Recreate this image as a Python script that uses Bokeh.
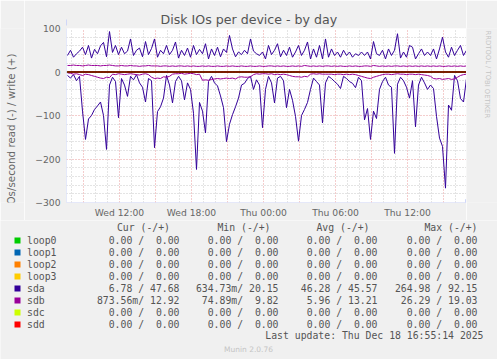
import pandas as pd
from bokeh.plotting import figure
from bokeh.layouts import column, row
from bokeh.core.properties import value
from bokeh.models import (Range1d, FixedTicker, DatetimeTickFormatter,
                          Arrow, NormalHead, Span, ColumnDataSource)
from bokeh.embed import file_html
from bokeh.resources import INLINE

# ---------------- data ----------------
devices = ["loop0", "loop1", "loop2", "loop3", "sda", "sdb", "sdc", "sdd"]
colors = ["#00cc00", "#0066b3", "#ff8000", "#ffcc00", "#330099", "#990099", "#ccff00", "#ff0000"]

sda_read = [-8, -14, -6, -20, -10, -90, -155, -108, -100, -86,
            -78, -69, -100, -178, -30, -12, -22, -105, -15, -30,
            -56, -10, -18, -6, -25, -35, -69, -15, -20, -174,
            -91, -80, -60, -8, -30, -71, -22, -10, -20, -64,
            -25, -40, -95, -224, -70, -90, -140, -22, -10, -25,
            -32, -55, -82, -160, -120, -98, -80, -60, -30, -26,
            -15, -10, -40, -18, -30, -128, -40, -10, -25, -71,
            -14, -10, -20, -82, -40, -65, -102, -159, -100, -86,
            -70, -40, -14, -22, -30, -117, -25, -10, -15, -22,
            -28, -38, -10, -15, -22, -26, -36, -12, -20, -110,
            -84, -155, -90, -107, -40, -22, -12, -30, -35, -187,
            -28, -12, -20, -35, -60, -20, -126, -30, -12, -25,
            -40, -30, -38, -102, -152, -171, -267, -76, -88, -8,
            -20, -61, -69, -15]
sda_write = [38, 50, 34, 42, 48, 57, 40, 61, 32, 52,
             42, 60, 68, 35, 93, 45, 61, 40, 57, 42,
             48, 76, 38, 50, 55, 35, 70, 40, 54, 76,
             34, 50, 42, 61, 40, 50, 69, 32, 50, 38,
             55, 34, 61, 40, 52, 42, 65, 30, 53, 38,
             57, 35, 53, 45, 84, 53, 35, 46, 40, 50,
             42, 76, 48, 42, 38, 46, 30, 61, 40, 50,
             65, 35, 50, 38, 57, 34, 46, 61, 38, 50,
             69, 30, 53, 34, 61, 30, 76, 34, 53, 38,
             46, 34, 50, 38, 46, 34, 42, 38, 46, 38,
             46, 30, 70, 42, 38, 50, 30, 53, 38, 50,
             88, 32, 46, 34, 61, 57, 30, 42, 53, 38,
             46, 38, 53, 30, 53, 80, 46, 34, 57, 38,
             50, 61, 38, 50]
sdb_read = [-2, -3, -5, -4, -6, -8, -5, -6, -8, -10,
            -12, -14, -15, -12, -13, -5, -6, -4,
            -5, -6, -5, -4, -5, -6, -7, -5, -4, -6, -12, -15, -14, -15,
            -11, -12, -10, -5, -4, -4, -3, -5, -4, -3, -4, -6, -5,
            -19, -18, -19, -17, -16, -15, -16, -15, -14,
            -15, -14, -16, -12, -11, -12, -12, -11, -6, -4, -5, -4,
            -4, -5, -4, -6, -5, -6, -5, -6, -8, -10, -11, -11,
            -12, -10, -11, -5, -4, -5, -4, -5, -5, -5,
            -5, -6, -5, -5, -6, -5, -6, -5, -6, -8,
            -10, -12, -14, -15, -12, -10, -8, -6,
            -5, -5, -6, -5, -4, -5, -5, -6, -5, -5, -6, -5, -6, -7, -8, -10,
            -15, -16, -15, -17, -16, -15, -17, -16, -12, -8, -6, -5]
sdb_write = [15, 15, 16, 15, 15, 14, 15, 16, 15, 15,
             15, 14, 15, 15, 16, 15, 14, 14, 15, 14,
             14, 15, 14, 14, 13, 14, 14, 15, 14, 14,
             14, 13, 14, 14, 13, 14, 13, 14, 14, 13,
             14, 13, 14, 13, 13, 14, 13, 14, 13, 13,
             14, 13, 13, 14, 13, 14, 13, 13, 14, 13,
             13, 14, 13, 13, 14, 13, 13, 14, 14, 13,
             14, 13, 14, 13, 13, 14, 13, 14, 13, 15,
             14, 13, 14, 13, 14, 13, 14, 14, 13, 14,
             13, 14, 13, 13, 14, 13, 14, 13, 13, 14,
             14, 13, 15, 14, 13, 14, 13, 14, 13, 14,
             14, 13, 14, 13, 14, 13, 14, 13, 14, 13,
             14, 13, 14, 13, 14, 13, 13, 14, 13, 14,
             13, 14, 13, 14]
zeros = [0] * len(sda_read)

series_read = {"loop0": zeros, "loop1": zeros, "loop2": zeros, "loop3": zeros,
               "sda": sda_read, "sdb": sdb_read, "sdc": zeros, "sdd": zeros}
series_write = {"loop0": zeros, "loop1": zeros, "loop2": zeros, "loop3": zeros,
                "sda": sda_write, "sdb": sdb_write, "sdc": zeros, "sdd": zeros}

# legend statistics (read / write), as shown
cur_r = ["0.00", "0.00", "0.00", "0.00", "6.78", "873.56m", "0.00", "0.00"]
cur_w = ["0.00", "0.00", "0.00", "0.00", "47.68", "12.92", "0.00", "0.00"]
min_r = ["0.00", "0.00", "0.00", "0.00", "634.73m", "74.89m", "0.00", "0.00"]
min_w = ["0.00", "0.00", "0.00", "0.00", "20.15", "9.82", "0.00", "0.00"]
avg_r = ["0.00", "0.00", "0.00", "0.00", "46.28", "5.96", "0.00", "0.00"]
avg_w = ["0.00", "0.00", "0.00", "0.00", "45.57", "13.21", "0.00", "0.00"]
max_r = ["0.00", "0.00", "0.00", "0.00", "264.98", "26.29", "0.00", "0.00"]
max_w = ["0.00", "0.00", "0.00", "0.00", "92.15", "19.03", "0.00", "0.00"]
col_headers = ["Cur (-/+)", "Min (-/+)", "Avg (-/+)", "Max (-/+)"]

y_ticks = [-300, -200, -100, 0, 100]
title_text = "Disk IOs per device - by day"
y_label = "IOs/second read (-) / write (+)"
last_update = "Last update: Thu Dec 18 16:55:14 2025"
watermark = "RRDTOOL / TOBI OETIKER"
version = "Munin 2.0.76"

# time axis: 15-minute samples
t_start = pd.Timestamp("2025-12-17 07:35")
t_end = pd.Timestamp("2025-12-18 16:55")
times = pd.date_range("2025-12-17 07:40", periods=len(sda_read), freq="15min")

def ms(ts):
    return pd.Timestamp(ts).value / 1e6

label_ticks = [ms(t) for t in pd.date_range("2025-12-17 12:00", "2025-12-18 12:00", freq="6h")]
grid_major = [ms(t) for t in pd.date_range("2025-12-17 09:00", "2025-12-18 15:00", freq="3h")]
grid_minor = [ms(t) for t in pd.date_range("2025-12-17 08:00", "2025-12-18 16:00", freq="1h")
              if ms(t) not in grid_major]

# ---------------- styling constants ----------------
FONT = "DejaVu Sans"
MONO = "DejaVu Sans Mono"
TXT = "#666666"
LEG = "#555555"
BG = "#f0f0f0"
NB = "\u00a0"

W_LEFT = 24
W_MAIN = 442
W_SIDE = 31
H1 = 220
H2 = 139

def strip(width, height, x0, y0):
    """A plain panel whose data units are picture pixels."""
    f = figure(width=width, height=height, x_range=Range1d(x0, x0 + width),
               y_range=Range1d(y0 + height, y0), output_backend="svg", toolbar_location=None,
               min_border_left=0, min_border_right=0, min_border_top=0, min_border_bottom=0,
               background_fill_color=BG, border_fill_color=BG, outline_line_color=None)
    f.axis.visible = False
    f.grid.visible = False
    return f

# ---------------- main chart ----------------
p = figure(width=W_MAIN, height=H1, x_axis_type="datetime",
           x_range=Range1d(t_start, t_end), y_range=Range1d(-300, 100),
           output_backend="svg", toolbar_location=None,
           min_border_left=42, min_border_right=0, min_border_top=28, min_border_bottom=17,
           background_fill_color="white", border_fill_color=BG,
           outline_line_color=None)

p.title.text = title_text
p.title.align = "left"
p.title.offset = 94
p.title.standoff = 3
p.title.text_font = FONT
p.title.text_font_size = "12.6px"
p.title.text_font_style = "normal"
p.title.text_color = LEG

p.xaxis.ticker = FixedTicker(ticks=label_ticks)
p.xaxis.formatter = DatetimeTickFormatter(hours="%a %H:%M", hourmin="%a %H:%M",
                                          days="%a %H:%M", minutes="%a %H:%M")
p.yaxis.ticker = FixedTicker(ticks=y_ticks)
for ax in (p.xaxis[0], p.yaxis[0]):
    ax.axis_line_color = None
    ax.major_tick_line_color = None
    ax.minor_tick_line_color = None
    ax.major_tick_out = 0
    ax.major_tick_in = 0
    ax.minor_tick_out = 0
    ax.minor_tick_in = 0
    ax.major_label_text_font = FONT
    ax.major_label_text_font_size = "9.2px"
    ax.major_label_text_color = TXT
p.xaxis.major_label_standoff = 4
p.yaxis.major_label_standoff = 6

p.xgrid.ticker = FixedTicker(ticks=grid_major, minor_ticks=grid_minor)
p.ygrid.ticker = FixedTicker(ticks=y_ticks, minor_ticks=[v for v in range(-300, 101, 20) if v % 100 != 0])
for g in (p.xgrid[0], p.ygrid[0]):
    g.grid_line_color = "#e89a9a"
    g.grid_line_dash = "1 2"
    g.grid_line_width = 1
    g.minor_grid_line_color = "#c8c8c8"
    g.minor_grid_line_dash = "1 2"
    g.minor_grid_line_width = 1

for dev, col in zip(devices, colors):
    src = ColumnDataSource(dict(t=times, r=series_read[dev], w=series_write[dev]))
    p.line("t", "r", source=src, line_color=col, line_width=1)
    p.line("t", "w", source=src, line_color=col, line_width=1)

p.add_layout(Span(location=0, dimension="width", line_color="black", line_width=1))

AX = "#cfd6f8"
p.add_layout(Arrow(x_start=0, y_start=-3, x_end=0, y_end=183,
                   start_units="screen", end_units="screen",
                   line_color=AX, line_width=1,
                   end=NormalHead(size=6, fill_color=AX, line_color=AX)))
p.add_layout(Arrow(x_start=-3, y_start=0, x_end=405, y_end=0,
                   start_units="screen", end_units="screen",
                   line_color=AX, line_width=1,
                   end=NormalHead(size=6, fill_color=AX, line_color=AX)))

# ---------------- left strip: y-axis title ----------------
left = strip(W_LEFT, H1, 0, 0)
left.text(x=[10.5], y=[129], text=[y_label], angle=1.5708, text_font=value(FONT),
          text_font_size=value("10.3px"), text_color=TXT,
          text_align="center", text_baseline="middle")

# ---------------- right strip: RRDtool credit ----------------
side = strip(W_SIDE, H1, W_LEFT + W_MAIN, 0)
side.text(x=[487], y=[58], text=[watermark], angle=-1.5708, text_font=value(FONT),
          text_font_size=value("6.8px"), text_color="#c4c4c4",
          text_align="center", text_baseline="middle")

# ---------------- legend panel ----------------
W = W_LEFT + W_MAIN + W_SIDE
leg = strip(W, H2, 0, H1)

col_right = [179, 278, 377, 477]
head_right = [169.5, 270, 369, 477]
row_y = [240 + 12 * i for i in range(len(devices))]

def pair(r, w):
    left_part = r if r.endswith("m") else r + " "
    return (left_part.rjust(7) + "/" + w.rjust(6)).replace(" ", NB)

leg.text(x=head_right, y=[227] * 4, text=[h.replace(" ", NB) for h in col_headers],
         text_font=value(MONO), text_font_size=value("9.8px"), text_color=LEG,
         text_align="right", text_baseline="middle")

leg.rect(x=[17] * len(devices), y=row_y, width=6, height=6, fill_color=colors, line_color=None)
leg.text(x=[26.5] * len(devices), y=row_y, text=devices, text_font=value(MONO),
         text_font_size=value("9.8px"), text_color=LEG, text_align="left", text_baseline="middle")

stats = [(cur_r, cur_w), (min_r, min_w), (avg_r, avg_w), (max_r, max_w)]
for (rs, ws), xr in zip(stats, col_right):
    leg.text(x=[xr] * len(devices), y=row_y, text=[pair(a, b) for a, b in zip(rs, ws)],
             text_font=value(MONO), text_font_size=value("9.8px"), text_color=LEG,
             text_align="right", text_baseline="middle")

leg.text(x=[483], y=[335], text=[last_update.replace(" ", NB)], text_font=value(MONO),
         text_font_size=value("9.8px"), text_color=LEG, text_align="right", text_baseline="middle")
leg.text(x=[248], y=[348.5], text=[version], text_font=value(FONT),
         text_font_size=value("7.5px"), text_color="#c4c4c4", text_align="center", text_baseline="middle")

layout = column(row(left, p, side, spacing=0), leg, spacing=0)
open("out.html", "w").write(file_html(layout, INLINE))
